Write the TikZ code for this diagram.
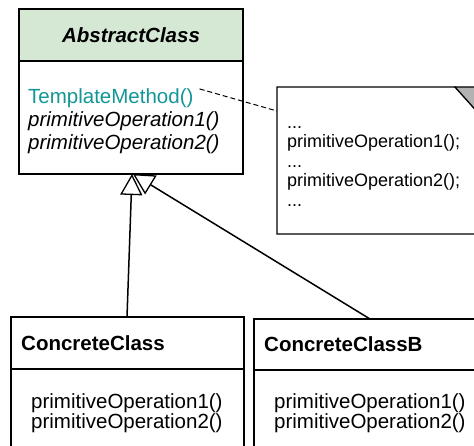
\documentclass[tikz,border=0pt]{standalone}
\usepackage{fontspec}
\setmainfont{Liberation Sans}
\usetikzlibrary{arrows.meta,calc}
\definecolor{hdr}{HTML}{D5E8D4}
\definecolor{tealtxt}{RGB}{20,150,150}
\definecolor{foldgray}{RGB}{178,178,178}
\begin{document}
\begin{tikzpicture}[x=1pt,y=1pt,
  umlbox/.style={draw, line width=1.3pt, inner sep=0pt, outer sep=0pt, anchor=north west},
  big/.style={font=\fontsize{20.5}{24}\selectfont, inner sep=0pt, anchor=base west},
  small/.style={font=\fontsize{18}{20}\selectfont, inner sep=0pt, anchor=base west},
  inherit/.style={line width=1.5pt, -{Triangle[open, length=21pt, width=22pt, line width=1.3pt]}},
  notelink/.style={line width=1pt, dash pattern=on 5pt off 3pt}]
\useasboundingbox (0,0) rectangle (474,445);
\clip (0,0) rectangle (474,445);
\fill[white] (0,0) rectangle (474,445);
% Abstract class
\node[umlbox, fill=hdr, minimum width=224pt, minimum height=52pt] (absHead) at (19,436) {};
\node[umlbox, minimum width=224pt, minimum height=113pt] (absBody) at (19,384) {};
\node[font=\fontsize{20.5}{24}\selectfont\bfseries\itshape, inner sep=0pt, anchor=base] (absTitle) at (131,402.5) {AbstractClass};
\node[big, text=tealtxt] (tm) at (28,341) {TemplateMethod()};
\node[big, font=\fontsize{20.5}{24}\selectfont\itshape] (ap1) at (28,318) {primitiveOperation1()};
\node[big, font=\fontsize{20.5}{24}\selectfont\itshape] (ap2) at (28,295) {primitiveOperation2()};
% Note
\draw[line width=1.2pt, fill=white] (277,358) -- (455,358) -- (490,319) -- (490,211) -- (277,211) -- cycle;
\draw[line width=1.2pt, fill=foldgray] (455,358) -- (490,358) -- (490,319) -- cycle;
\coordinate (noteW) at (277,334);
\node[small] (n1) at (287,126.5+190) {...};
\node[small] (n2) at (287,297) {primitiveOperation1();};
\node[small] (n3) at (287,277.5) {...};
\node[small] (n4) at (287,258) {primitiveOperation2();};
\node[small] (n5) at (287,238.5) {...};
\draw[notelink] ($(tm.north east)+(6,0)$) -- (noteW);
% Concrete classes
\node[umlbox, minimum width=233pt, minimum height=52pt] (ccHead) at (11,128) {};
\node[umlbox, minimum width=233pt, minimum height=100pt] (ccBody) at (11,76) {};
\node[big, font=\fontsize{20.5}{24}\selectfont\bfseries] (ccTitle) at (21,95) {ConcreteClass};
\node[big] (cc1) at (31,37) {primitiveOperation1()};
\node[big] (cc2) at (31,17) {primitiveOperation2()};
\node[umlbox, minimum width=232pt, minimum height=51pt] (cbHead) at (254,126) {};
\node[umlbox, minimum width=232pt, minimum height=100pt] (cbBody) at (254,75) {};
\node[big, font=\fontsize{20.5}{24}\selectfont\bfseries] (cbTitle) at (264,93.5) {ConcreteClassB};
\node[big] (cb1) at (274,37) {primitiveOperation1()};
\node[big] (cb2) at (274,17) {primitiveOperation2()};
% Inheritance
\draw[inherit] ($(ccHead.north)+(-0.5,0)$) -- ($(absBody.south)+(1,0)$);
\draw[inherit] ($(cbHead.north)+(0,0)$) -- ($(absBody.south)+(2,0)$);
\end{tikzpicture}
\end{document}
